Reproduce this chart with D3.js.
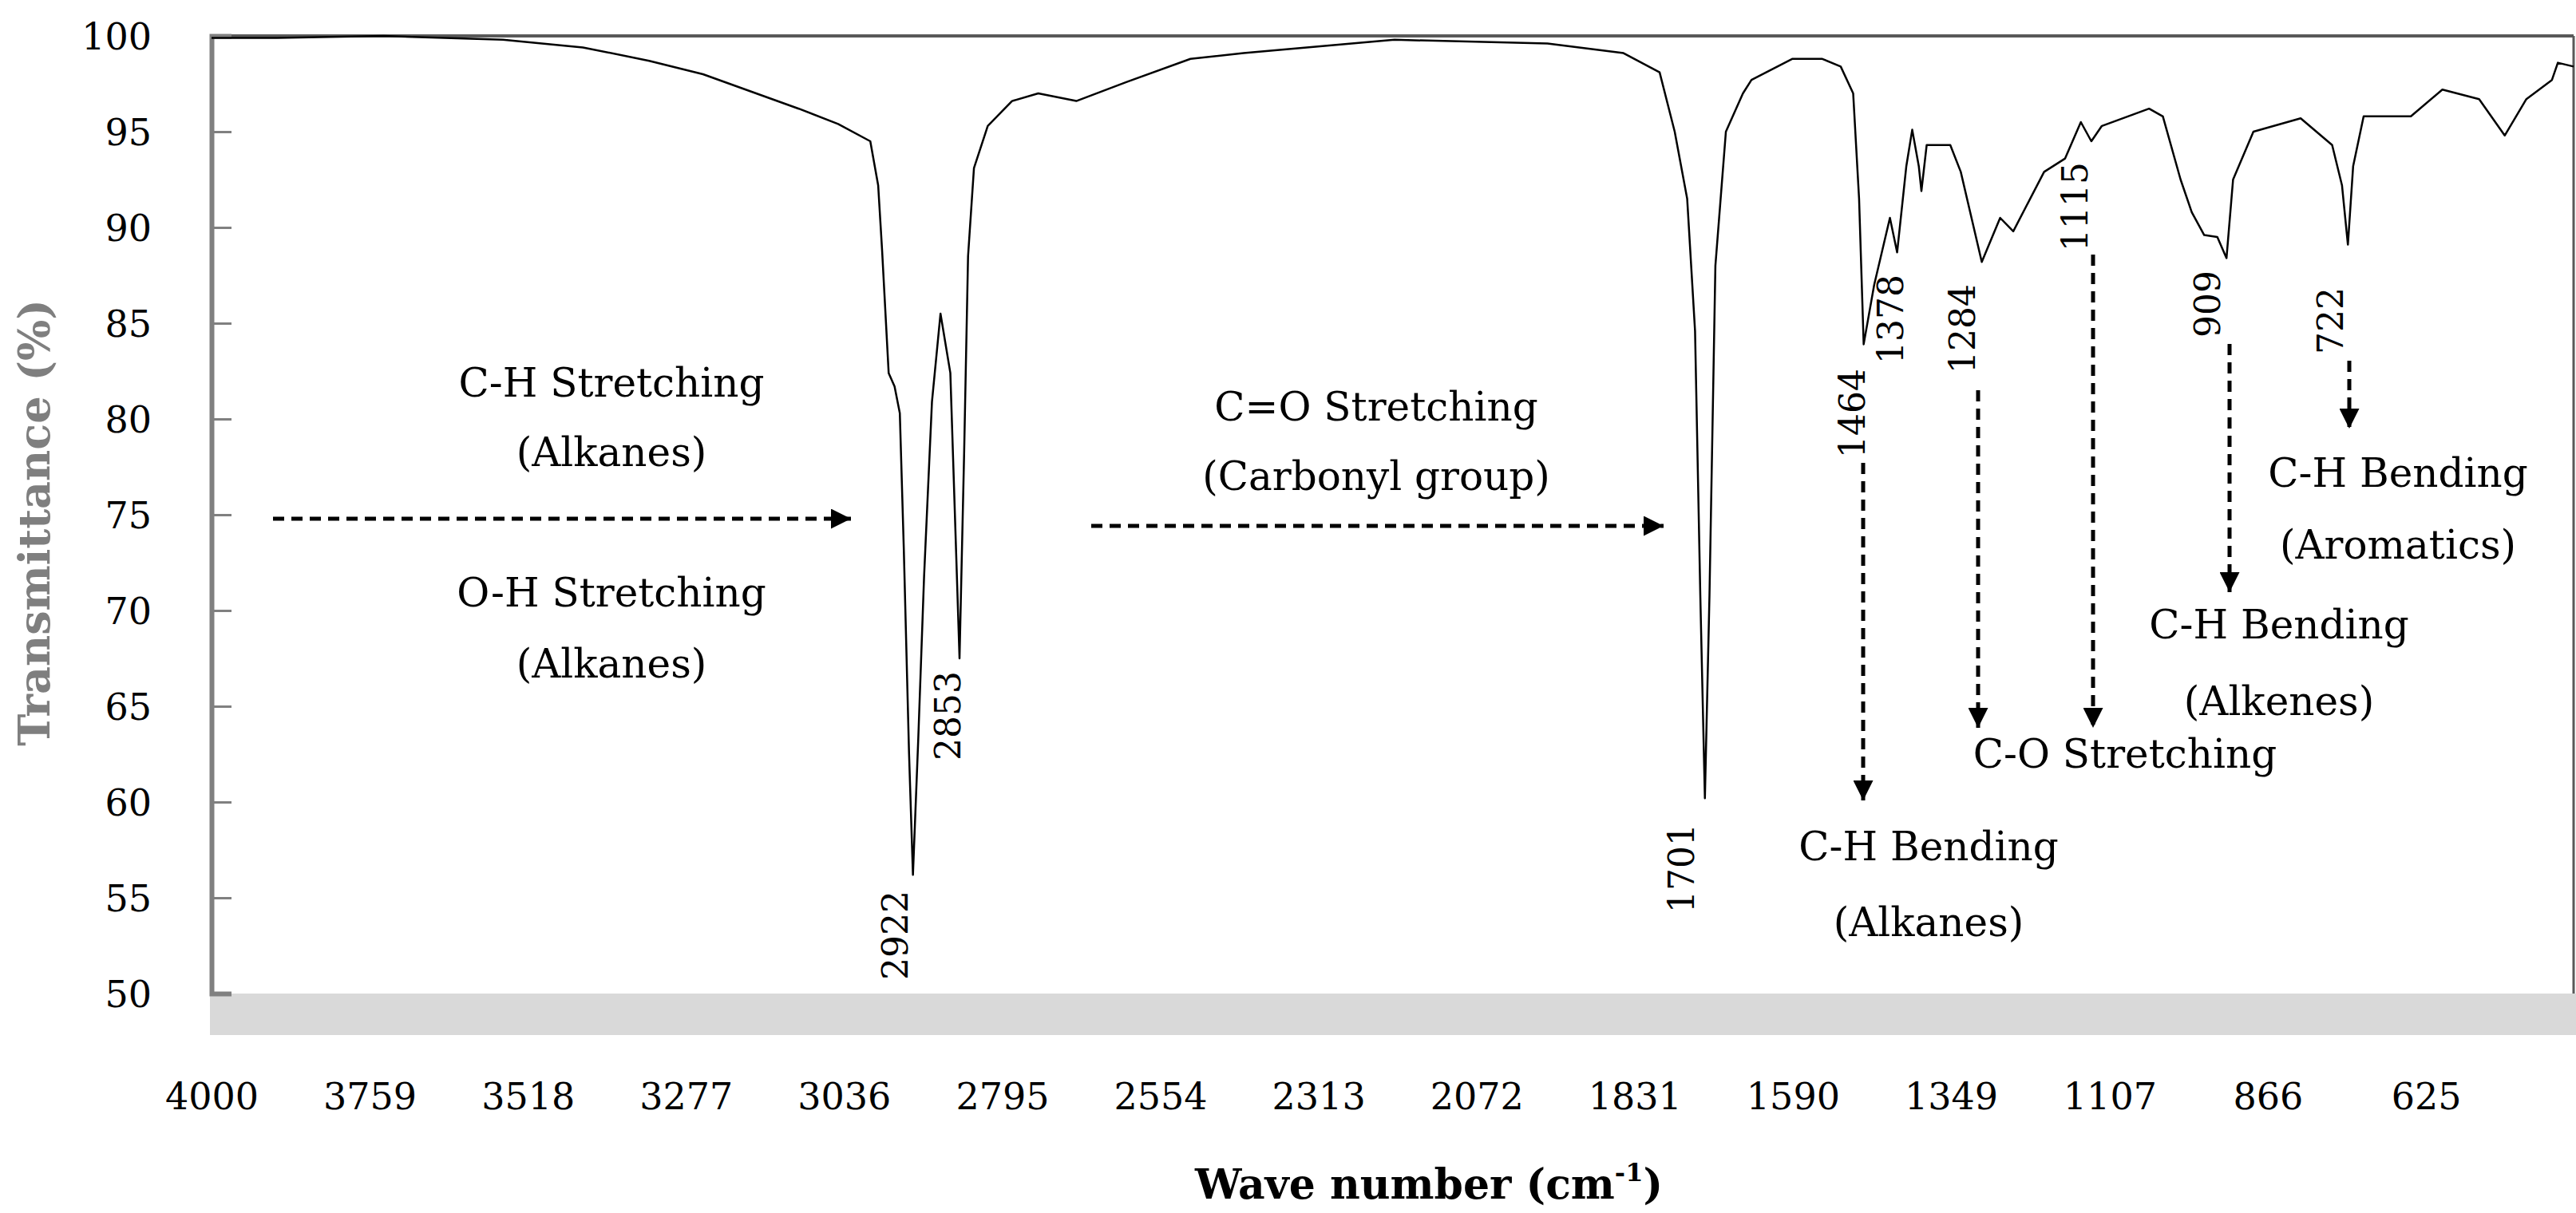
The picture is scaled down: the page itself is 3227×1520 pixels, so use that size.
<!DOCTYPE html>
<html>
<head>
<meta charset="utf-8">
<script src="https://cdn.jsdelivr.net/npm/d3@7"></script>
<style>
  body { margin: 0; background: #fff; }
  text { font-family: "DejaVu Serif", serif; }
</style>
</head>
<body>
<svg width="3227" height="1520"></svg>
<script>
// FTIR spectrum, wave number (cm-1) vs transmittance (%)
let waveNumbers = [4000, 3900, 3738, 3556, 3434, 3333, 3251, 3105, 3045, 2996, 2984, 2978, 2968, 2959, 2951, 2945, 2937, 2931, 2923, 2914, 2902, 2889, 2874, 2866, 2860, 2853, 2847, 2838, 2817, 2780, 2740, 2682, 2605, 2508, 2427, 2197, 1964, 1848, 1793, 1770, 1751, 1739, 1731, 1724, 1717, 1708, 1692, 1666, 1653, 1591, 1545, 1517, 1498, 1489, 1482, 1466, 1442, 1431, 1417, 1408, 1398, 1394, 1386, 1350, 1334, 1302, 1274, 1254, 1207, 1175, 1151, 1135, 1119, 1047, 1026, 999, 982, 963, 943, 929, 919, 888, 816, 768, 753, 744, 736, 720, 648, 600, 544, 505, 472, 433, 424, 400];
let transmittance = [99.9, 99.9, 100, 99.8, 99.4, 98.7, 98.0, 96.2, 95.4, 94.5, 92.2, 88.8, 82.4, 81.7, 80.3, 73.3, 62.6, 56.2, 63.2, 71.8, 80.9, 85.5, 82.4, 73.9, 67.5, 78.2, 88.5, 93.1, 95.3, 96.6, 97.0, 96.6, 97.6, 98.8, 99.1, 99.8, 99.6, 99.1, 98.1, 95.0, 91.5, 84.6, 70.8, 60.2, 70.8, 88.0, 95.0, 97.0, 97.7, 98.8, 98.8, 98.4, 97.0, 91.5, 83.9, 87.0, 90.5, 88.7, 93.2, 95.1, 93.2, 91.9, 94.3, 94.3, 92.9, 88.2, 90.5, 89.8, 92.9, 93.6, 95.5, 94.5, 95.3, 96.2, 95.8, 92.5, 90.8, 89.6, 89.5, 88.4, 92.5, 95.0, 95.7, 94.3, 92.2, 89.1, 93.2, 95.8, 95.8, 97.2, 96.7, 94.8, 96.7, 97.7, 98.6, 98.4];
let xTickLabels = [4000, 3759, 3518, 3277, 3036, 2795, 2554, 2313, 2072, 1831, 1590, 1349, 1107, 866, 625];
let yTicks = [50, 55, 60, 65, 70, 75, 80, 85, 90, 95, 100];
let peakLabels = ["2922", "2853", "1701", "1464", "1378", "1284", "1115", "909", "722"];

let plotLeft = 265, plotRight = 3224, plotTop = 45, plotBottom = 1245;

let x = d3.scaleLinear().domain([4000, 400]).range([plotLeft, plotRight]);
let y = d3.scaleLinear().domain([50, 100]).range([plotBottom, plotTop]);

let svg = d3.select("svg");

svg.append("defs").append("marker")
    .attr("id", "head")
    .attr("viewBox", "0 0 10 10")
    .attr("refX", 10).attr("refY", 5)
    .attr("markerWidth", 5).attr("markerHeight", 5)
    .attr("markerUnits", "strokeWidth")
    .attr("orient", "auto")
  .append("path")
    .attr("d", "M0,0 L10,5 L0,10 Z")
    .attr("fill", "#000");

// floor band
svg.append("rect")
    .attr("x", plotLeft - 2).attr("y", plotBottom)
    .attr("width", 3227 - plotLeft + 2).attr("height", 52)
    .attr("fill", "#d9d9d9");

// frame
svg.append("line").attr("x1", plotLeft).attr("x2", plotRight).attr("y1", plotTop).attr("y2", plotTop)
    .attr("stroke", "#595959").attr("stroke-width", 4);
svg.append("line").attr("x1", plotRight).attr("x2", plotRight).attr("y1", plotTop).attr("y2", plotBottom)
    .attr("stroke", "#595959").attr("stroke-width", 3);

// y axis
let yAxis = d3.axisLeft(y).tickValues(yTicks).tickSize(-25).tickPadding(75);
let gy = svg.append("g").attr("transform", `translate(${plotLeft},0)`).call(yAxis);
gy.select(".domain").attr("stroke", "#808080").attr("stroke-width", 6);
gy.selectAll(".tick line").attr("stroke", "#808080").attr("stroke-width", 3);
gy.selectAll(".tick text").attr("font-size", 46).attr("fill", "#000")
    .attr("font-family", "DejaVu Serif").attr("dy", "0.35em");

// x axis (labels only)
let xAxis = d3.axisBottom(x).tickValues(xTickLabels).tickSize(0).tickPadding(0)
    .tickFormat(d => d);
let gx = svg.append("g").attr("transform", `translate(0,1390)`).call(xAxis);
gx.select(".domain").remove();
gx.selectAll(".tick text").attr("font-size", 46).attr("fill", "#000")
    .attr("font-family", "DejaVu Serif").attr("dy", 0);

// titles
svg.append("text")
    .attr("transform", "translate(62,655) rotate(-90)")
    .attr("text-anchor", "middle")
    .attr("font-size", 54).attr("font-weight", "bold").attr("fill", "#7f7f7f")
    .text("Transmittance (%)");
let xt = svg.append("text")
    .attr("x", 1790).attr("y", 1502)
    .attr("text-anchor", "middle")
    .attr("font-size", 52).attr("font-weight", "bold").attr("fill", "#000");
xt.append("tspan").text("Wave number (cm");
xt.append("tspan").attr("font-size", 32).attr("dy", -22).text("-1");
xt.append("tspan").attr("dy", 22).text(")");

// spectrum
let spectrum = waveNumbers.map((w, i) => [w, transmittance[i]]);
svg.append("path")
    .datum(spectrum)
    .attr("fill", "none")
    .attr("stroke", "#000")
    .attr("stroke-width", 2.5)
    .attr("stroke-linejoin", "round")
    .attr("d", d3.line().x(d => x(d[0])).y(d => y(d[1])));

// peak labels (rotated), centre position in px
let peakPos = [[1122, 1172], [1188, 897], [2107, 1088], [2321, 518], [2369, 400], [2459, 412], [2600, 259], [2766, 381], [2920, 402]];
peakLabels.forEach((t, i) => {
  svg.append("text")
    .attr("transform", `translate(${peakPos[i][0] + 15},${peakPos[i][1]}) rotate(-90)`)
    .attr("text-anchor", "middle")
    .attr("font-size", 44).attr("fill", "#000")
    .text(t);
});

// dashed arrows
let arrows = [
  [342, 650, 1066, 650],
  [1367, 659, 2084, 659],
  [2334, 580, 2334, 1003],
  [2478, 489, 2478, 912],
  [2622, 319, 2622, 912],
  [2793, 431, 2793, 742],
  [2943, 452, 2943, 537]
];
svg.selectAll("line.arrow").data(arrows).join("line")
    .attr("class", "arrow")
    .attr("x1", d => d[0]).attr("y1", d => d[1])
    .attr("x2", d => d[2]).attr("y2", d => d[3])
    .attr("stroke", "#000").attr("stroke-width", 5)
    .attr("stroke-dasharray", "14,9")
    .attr("marker-end", "url(#head)");

// annotation texts
let notes = [
  ["C-H Stretching", 766, 497], ["(Alkanes)", 766, 584],
  ["O-H Stretching", 766, 760], ["(Alkanes)", 766, 849],
  ["C=O Stretching", 1724, 527], ["(Carbonyl group)", 1724, 614],
  ["C-H Bending", 2416, 1078], ["(Alkanes)", 2416, 1173],
  ["C-O Stretching", 2662, 962],
  ["C-H Bending", 2855, 800], ["(Alkenes)", 2855, 896],
  ["C-H Bending", 3004, 610], ["(Aromatics)", 3004, 700]
];
svg.selectAll("text.note").data(notes).join("text")
    .attr("class", "note")
    .attr("x", d => d[1]).attr("y", d => d[2])
    .attr("text-anchor", "middle")
    .attr("font-size", 50).attr("fill", "#000")
    .text(d => d[0]);
</script>
</body>
</html>
